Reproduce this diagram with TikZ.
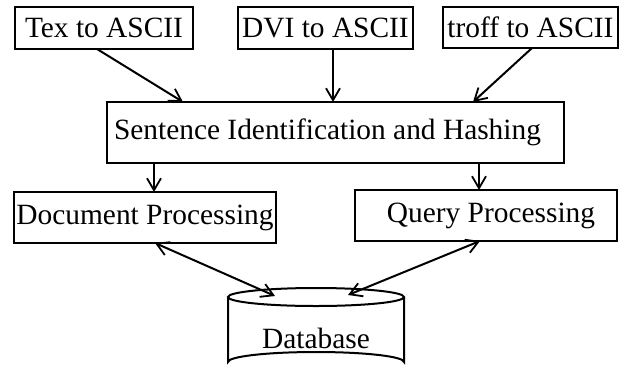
\documentclass[tikz,border=0pt]{standalone}
\usepackage{fontspec}
\setmainfont{Liberation Serif}
\usetikzlibrary{arrows.meta}
\begin{document}
\begin{tikzpicture}[x=1pt,y=-1pt,
  box/.style={draw,line width=2pt,outer sep=0pt,inner sep=0pt,
    font=\fontsize{29.4}{34}\selectfont},
  conn/.style={line width=2pt,-{Straight Barb[length=12pt,width=14pt,line width=1.8pt]}},
  biconn/.style={line width=2pt,{Straight Barb[length=12pt,width=14pt,line width=1.8pt]}-{Straight Barb[length=12pt,width=14pt,line width=1.8pt]}},
  dbline/.style={line width=2pt}]
\useasboundingbox (0,0) rectangle (624,373);
\node[box,minimum width=178pt,minimum height=42pt] (tex) at (104,28) {Tex to ASCII};
\node[box,minimum width=175pt,minimum height=42pt] (dvi) at (325.5,28) {DVI to ASCII};
\node[box,minimum width=175pt,minimum height=41pt] (troff) at (530.5,27.5) {troff to ASCII};
\node[box,minimum width=457pt,minimum height=61pt] (sent) at (335.5,132.5) {\hspace{-16pt}Sentence Identification and Hashing};
\node[box,minimum width=262pt,minimum height=51pt] (doc) at (145,217.5) {Document Processing};
\node[box,minimum width=262pt,minimum height=51pt] (query) at (486,215.5) {\hspace{10pt}Query Processing};
% database cylinder
\draw[dbline] (316,297) ellipse [x radius=88, y radius=9];
\draw[dbline] (228,297) -- (228,362) arc [start angle=180, end angle=360, x radius=88, y radius=10] -- (404,297);
\node[font=\fontsize{29.4}{34}\selectfont] (db) at (316,338) {Database};
\coordinate (dbl) at (275,296);
\coordinate (dbr) at (348,295);
% connectors
\draw[conn] ([xshift=-7pt]tex.south) -- ([xshift=-152.5pt]sent.north);
\draw[conn] ([xshift=7.5pt]dvi.south) -- ([xshift=-2.5pt]sent.north);
\draw[conn] ([xshift=1.5pt]troff.south) -- ([xshift=137.5pt]sent.north);
\draw[conn] ([xshift=-181.5pt]sent.south) -- ([xshift=9pt]doc.north);
\draw[conn] ([xshift=143.5pt]sent.south) -- ([xshift=-7pt]query.north);
\draw[biconn] ([xshift=10pt]doc.south) -- (dbl);
\draw[biconn] ([xshift=-6pt]query.south) -- (dbr);
\end{tikzpicture}
\end{document}
